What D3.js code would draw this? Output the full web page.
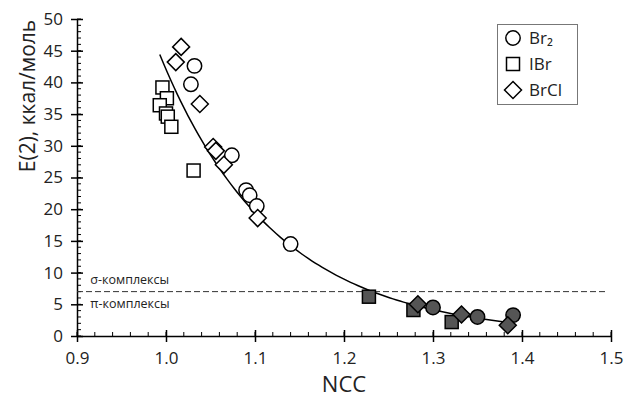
<!DOCTYPE html>
<html>
<head>
<meta charset="utf-8">
<script src="https://cdn.jsdelivr.net/npm/d3@7"></script>
<style>
  html, body { margin: 0; padding: 0; background: #fff; }
  svg { display: block; font-family: "Open Sans", "Liberation Sans", sans-serif; }
</style>
</head>
<body>
<svg id="chart" width="625" height="404"></svg>
<script>
// NCC vs E(2) for Br2, IBr and BrCl complexes
const br2NCC  = [1.032, 1.028, 1.074, 1.090, 1.094, 1.102, 1.140, 1.300, 1.350, 1.390];
const br2E    = [42.6, 39.7, 28.5, 23.0, 22.2, 20.5, 14.5, 4.5, 3.0, 3.3];
const ibrNCC  = [0.996, 1.001, 0.993, 1.000, 1.002, 1.006, 1.031, 1.228, 1.278, 1.321];
const ibrE    = [39.2, 37.5, 36.4, 35.1, 34.6, 33.0, 26.1, 6.2, 4.1, 2.2];
const brclNCC = [1.017, 1.011, 1.038, 1.053, 1.056, 1.065, 1.103, 1.283, 1.332, 1.384];
const brclE   = [45.6, 43.2, 36.6, 29.8, 29.2, 27.0, 18.6, 5.0, 3.4, 1.7];

const seriesNames = ["Br\u2082", "IBr", "BrCl"];
const seriesShapes = ["circle", "square", "diamond"];

const xTicks = [0.9, 1.0, 1.1, 1.2, 1.3, 1.4, 1.5];
const yTicks = [0, 5, 10, 15, 20, 25, 30, 35, 40, 45, 50];

// E(2) boundary between sigma- and pi-complexes
const boundaryE = 7;
const sigmaLabel = "\u03c3-комплексы";
const piLabel = "\u03c0-комплексы";
const xTitle = "NCC";
const yTitle = "E(2), ккал/моль";

const svg = d3.select("#chart");
const x = d3.scaleLinear().domain([0.9, 1.5]).range([77, 611]);
const y = d3.scaleLinear().domain([0, 50]).range([336, 19]);

// minor ticks
const xMinor = d3.range(0.9, 1.5001, 0.02).map(v => +v.toFixed(2));
const yMinor = d3.range(0, 50.001, 1);

const axisG = svg.append("g");
axisG.append("g").selectAll("line").data(xMinor).join("line")
  .attr("x1", d => x(d)).attr("x2", d => x(d))
  .attr("y1", y(0)).attr("y2", y(0) - 4)
  .attr("stroke", "#000").attr("stroke-width", 1);
axisG.append("g").selectAll("line").data(yMinor).join("line")
  .attr("x1", x(0.9)).attr("x2", x(0.9) + 4)
  .attr("y1", d => y(d)).attr("y2", d => y(d))
  .attr("stroke", "#000").attr("stroke-width", 1);

const xAxis = d3.axisBottom(x).tickValues(xTicks).tickFormat(d3.format(".1f"))
  .tickSizeInner(6).tickSizeOuter(0).tickPadding(8);
const gx = svg.append("g").attr("transform", `translate(0,${y(0)})`).call(xAxis);
gx.selectAll(".tick line").attr("y1", -6).attr("y2", 6).attr("stroke-width", 1.5);
gx.select(".domain").attr("stroke-width", 1.5);
gx.selectAll("text").attr("font-size", 17).attr("fill", "#222").attr("dy", "0.85em")
  .attr("font-family", "Open Sans, sans-serif");

const yAxis = d3.axisLeft(y).tickValues(yTicks).tickFormat(d3.format("d"))
  .tickSizeInner(6).tickSizeOuter(0).tickPadding(8);
const gy = svg.append("g").attr("transform", `translate(${x(0.9)},0)`).call(yAxis);
gy.selectAll(".tick line").attr("x1", -6).attr("x2", 6).attr("stroke-width", 1.5);
gy.select(".domain").attr("stroke-width", 1.5);
gy.selectAll("text").attr("font-size", 17).attr("fill", "#222")
  .attr("font-family", "Open Sans, sans-serif");

// axis titles
svg.append("text").attr("x", (x(0.9) + x(1.5)) / 2).attr("y", 392)
  .attr("text-anchor", "middle").attr("font-size", 22).attr("fill", "#222").text(xTitle);
svg.append("text").attr("transform", `translate(35,96) rotate(-90)`)
  .attr("text-anchor", "middle").attr("font-size", 21).attr("fill", "#222").text(yTitle);

// sigma / pi boundary
svg.append("line")
  .attr("x1", x(0.9)).attr("x2", x(1.495))
  .attr("y1", y(boundaryE)).attr("y2", y(boundaryE))
  .attr("stroke", "#333").attr("stroke-width", 1).attr("stroke-dasharray", "6,3");
svg.append("text").attr("x", x(0.915)).attr("y", y(boundaryE) - 8)
  .attr("font-size", 12.5).attr("fill", "#222").text(sigmaLabel);
svg.append("text").attr("x", x(0.915)).attr("y", y(boundaryE) + 16)
  .attr("font-size", 12.5).attr("fill", "#222").text(piLabel);

// exponential regression over all points: ln E = a + b*NCC
const allX = [...br2NCC, ...ibrNCC, ...brclNCC];
const allY = [...br2E, ...ibrE, ...brclE];
const lnY = allY.map(Math.log);
const mx = d3.mean(allX), my = d3.mean(lnY);
const b = d3.sum(allX.map((v, i) => (v - mx) * (lnY[i] - my))) / d3.sum(allX.map(v => (v - mx) ** 2));
const a = my - b * mx;
const [xmin, xmax] = d3.extent(allX);
const trend = d3.range(0, 101).map(i => {
  const xv = xmin + (xmax - xmin) * i / 100;
  return [xv, Math.exp(a + b * xv)];
});
svg.append("path").datum(trend)
  .attr("d", d3.line().x(d => x(d[0])).y(d => y(d[1])))
  .attr("fill", "none").attr("stroke", "#000").attr("stroke-width", 1.5);

// markers
function drawShape(g, shape, cx, cy, fill) {
  if (shape === "circle") {
    g.append("circle").attr("cx", cx).attr("cy", cy).attr("r", 7.2);
  } else if (shape === "square") {
    g.append("rect").attr("x", cx - 6.5).attr("y", cy - 6.5).attr("width", 13).attr("height", 13);
  } else {
    const r = 8.5;
    g.append("path").attr("d", `M${cx},${cy - r}L${cx + r},${cy}L${cx},${cy + r}L${cx - r},${cy}Z`);
  }
  g.selectAll(":scope > *:last-child")
    .attr("fill", fill).attr("stroke", "#000").attr("stroke-width", 1.5);
}

const seriesData = [[br2NCC, br2E], [ibrNCC, ibrE], [brclNCC, brclE]];
const pts = svg.append("g");
seriesData.forEach(([xs, ys], si) => {
  xs.forEach((xv, i) => {
    const fill = ys[i] < boundaryE ? "#555" : "#fff";
    drawShape(pts, seriesShapes[si], x(xv), y(ys[i]), fill);
  });
});

// legend
const lg = svg.append("g");
lg.append("rect").attr("x", 497.5).attr("y", 24.5).attr("width", 80).attr("height", 80)
  .attr("fill", "#fff").attr("stroke", "#777").attr("stroke-width", 1);
seriesNames.forEach((name, i) => {
  const cy = 38 + i * 26;
  const sg = lg.append("g");
  drawShape(sg, seriesShapes[i], 513, cy, "#fff");
  lg.append("text").attr("x", 529).attr("y", cy + 6)
    .attr("font-size", 17).attr("fill", "#222").text(name);
});
</script>
</body>
</html>
